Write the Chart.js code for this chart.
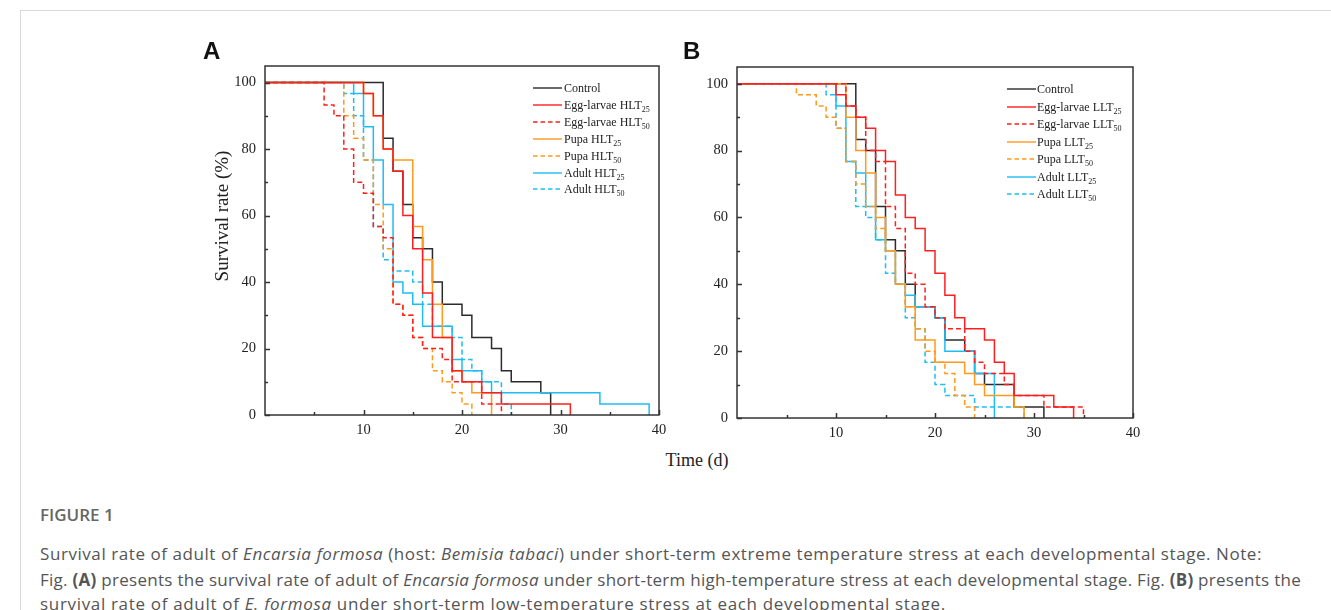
<!DOCTYPE html>
<html><head><meta charset="utf-8">
<script src="https://cdn.jsdelivr.net/npm/chart.js@4.4.1/dist/chart.umd.min.js"></script>
<style>
body{margin:0;width:1331px;height:610px;background:#fff;position:relative;overflow:hidden;font-family:'Open Sans',sans-serif;}
.ftop{position:absolute;left:20px;top:10px;width:1311px;height:0;border-top:1px solid #d9d9d9;}
.fleft{position:absolute;left:20px;top:10px;width:0;height:600px;border-left:1px solid #d9d9d9;}
canvas{position:absolute;}
.plab{position:absolute;font-family:'Liberation Sans',Arial,sans-serif;font-weight:bold;font-size:24px;color:#111;}
.atitle{position:absolute;font-family:'Liberation Serif','Times New Roman',serif;font-size:18px;color:#222;white-space:nowrap;}
.leg{position:absolute;font-family:'Liberation Serif','Times New Roman',serif;font-size:12px;color:#222;white-space:nowrap;height:16px;line-height:16px;}
.leg svg{position:absolute;left:0;top:0;}
.leg span{position:absolute;top:0;}
.leg sub{font-size:8px;vertical-align:-3px;line-height:0;}
.cap{position:absolute;left:40px;color:#555;white-space:nowrap;font-size:17px;line-height:23px;}
.cap span{display:inline-block;}
.fig{position:absolute;left:40px;top:503px;font-size:17px;font-weight:600;color:#666;}
</style></head>
<body>
<div class="ftop"></div><div class="fleft"></div>
<canvas id="cA" width="480" height="390" style="left:195px;top:56px;width:480px;height:390px"></canvas>
<canvas id="cB" width="480" height="390" style="left:667px;top:57px;width:480px;height:390px"></canvas>
<div class="plab" style="left:203px;top:37px">A</div>
<div class="plab" style="left:683px;top:37px">B</div>
<div class="atitle" style="left:222px;top:216px;font-size:19px;transform:translate(-50%,-50%) rotate(-90deg);">Survival rate (%)</div>
<div class="atitle" style="left:697px;top:460px;transform:translate(-50%,-50%);">Time (d)</div>
<div id="legA"></div><div id="legB"></div>
<div class="fig">FIGURE 1</div>
<div class="cap" data-w="1222" style="top:542px;"><span>Survival rate of adult of <i>Encarsia formosa</i> (host: <i>Bemisia tabaci</i>) under short-term extreme temperature stress at each developmental stage. Note:</span></div>
<div class="cap" data-w="1261" style="top:568px;"><span>Fig. <b>(A)</b> presents the survival rate of adult of <i>Encarsia formosa</i> under short-term high-temperature stress at each developmental stage. Fig. <b>(B)</b> presents the</span></div>
<div class="cap" data-w="906" style="top:592px;"><span>survival rate of adult of <i>E. formosa</i> under short-term low-temperature stress at each developmental stage.</span></div>
<script>
// ---- tick values ----
const xTickValues = [10, 20, 30, 40];
const xMinorTicks = [5, 15, 25, 35];
const yTickValues = [0, 20, 40, 60, 80, 100];
const yMinorTicks = [10, 30, 50, 70, 90];

// ---- Panel A (high temperature) : [day, survival %] ----
const controlA   = [[0,100],[12,83.3],[13,73.3],[14,63.3],[15,53.3],[16,50],[17,40],[18,33.3],[20,30],[21,23.3],[23,20],[24,13.3],[25,10],[28,6.7],[29,0]];
const eggHLT25   = [[0,100],[10,96.7],[11,90],[12,80],[13,73.3],[14,60],[15,50],[16,36.7],[17,23.3],[19,13.3],[20,10],[22,6.7],[24,3.3],[31,0]];
const eggHLT50   = [[0,100],[6,93.3],[7,90],[8,80],[9,70],[10,66.7],[11,56.7],[12,53.3],[13,33.3],[14,30],[15,23.3],[16,20],[18,16.7],[19,10],[22,3.3],[24,0]];
const pupaHLT25  = [[0,100],[10,96.7],[11,90],[12,80],[13,76.7],[15,56.7],[16,46.7],[17,33.3],[18,23.3],[19,13.3],[20,10],[21,6.7],[23,0]];
const pupaHLT50  = [[0,100],[8,90],[9,83.3],[10,76.7],[11,63.3],[12,50],[13,33.3],[14,30],[15,23.3],[16,20],[17,13.3],[18,10],[19,6.7],[20,3.3],[21,0]];
const adultHLT25 = [[0,100],[9,96.7],[10,86.7],[11,76.7],[12,63.3],[13,40],[14,36.7],[15,33.3],[16,26.7],[19,16.7],[20,13.3],[22,10],[23,6.7],[34,3.3],[39,0]];
const adultHLT50 = [[0,100],[8,96.7],[9,90],[10,76.7],[11,56.7],[12,46.7],[13,43.3],[15,40],[16,33.3],[17,26.7],[19,23.3],[20,16.7],[21,13.3],[22,10],[24,3.3],[25,0]];

// ---- Panel B (low temperature) ----
const controlB   = [[0,100],[12,83.3],[13,80],[14,63.3],[15,53.3],[16,50],[17,40],[18,33.3],[20,30],[21,23.3],[23,20],[24,13.3],[25,10],[28,3.3],[31,0]];
const eggLLT25   = [[0,100],[10,96.7],[11,93.3],[12,90],[13,86.7],[14,80],[15,76.7],[16,66.7],[17,60],[18,56.7],[19,50],[20,43.3],[21,36.7],[22,30],[23,26.7],[25,23.3],[26,16.7],[27,13.3],[28,6.7],[32,3.3],[34,0]];
const eggLLT50   = [[0,100],[11,93.3],[12,90],[13,80],[14,76.7],[15,63.3],[16,56.7],[17,43.3],[18,40],[19,33.3],[20,30],[21,26.7],[23,20],[24,16.7],[25,13.3],[27,10],[28,6.7],[31,3.3],[35,0]];
const pupaLLT25  = [[0,100],[11,90],[12,80],[13,73.3],[14,60],[15,50],[16,40],[17,33.3],[18,23.3],[20,16.7],[23,13.3],[24,10],[25,6.7],[28,3.3],[29,0]];
const pupaLLT50  = [[0,100],[6,96.7],[8,93.3],[9,90],[10,86.7],[11,76.7],[12,70],[13,63.3],[14,56.7],[15,50],[16,40],[17,33.3],[18,26.7],[19,20],[20,16.7],[21,13.3],[22,6.7],[23,3.3],[24,0]];
const adultLLT25 = [[0,100],[10,93.3],[11,76.7],[12,73.3],[13,63.3],[14,53.3],[15,50],[16,40],[17,36.7],[18,33.3],[20,30],[21,20],[24,13.3],[26,0]];
const adultLLT50 = [[0,100],[9,96.7],[10,86.7],[11,76.7],[12,63.3],[13,60],[14,53.3],[15,43.3],[16,40],[17,30],[18,26.7],[19,16.7],[20,10],[21,6.7],[24,3.3],[29,0]];

const legendA = ['Control','Egg-larvae HLT|25','Egg-larvae HLT|50','Pupa HLT|25','Pupa HLT|50','Adult HLT|25','Adult HLT|50'];
const legendB = ['Control','Egg-larvae LLT|25','Egg-larvae LLT|50','Pupa LLT|25','Pupa LLT|50','Adult LLT|25','Adult LLT|50'];

const colors = ['#2b2b2b','#ff1f1f','#ff1f1f','#ff9a1e','#ff9a1e','#1ebdf2','#1ebdf2'];
const dashed = [false,false,true,false,true,false,true];

function toXY(arr){return arr.map(p=>({x:p[0],y:p[1]}));}

const boxTicks = {
  id:'boxTicks',
  afterDraw(chart){
    const {ctx, chartArea:a, scales:{x,y}} = chart;
    ctx.save();
    ctx.strokeStyle='#333'; ctx.lineWidth=1.5;
    ctx.strokeRect(a.left, a.top, a.right-a.left, a.bottom-a.top);
    ctx.beginPath();
    xTickValues.forEach(v=>{const p=Math.round(x.getPixelForValue(v))+0.5; ctx.moveTo(p,a.bottom); ctx.lineTo(p,a.bottom-5);});
    xMinorTicks.forEach(v=>{const p=Math.round(x.getPixelForValue(v))+0.5; ctx.moveTo(p,a.bottom); ctx.lineTo(p,a.bottom-3);});
    yTickValues.forEach(v=>{const p=Math.round(y.getPixelForValue(v))+0.5; ctx.moveTo(a.left,p); ctx.lineTo(a.left+5,p);});
    yMinorTicks.forEach(v=>{const p=Math.round(y.getPixelForValue(v))+0.5; ctx.moveTo(a.left,p); ctx.lineTo(a.left+3,p);});
    ctx.stroke();
    ctx.restore();
  }
};

function makeChart(id, series, rightPad, xH){
  const datasets = series.map((s,i)=>({
    data: toXY(s), borderColor: colors[i], borderWidth: 1.5, borderDash: dashed[i]?[5,3]:[],
    stepped: true, pointRadius: 0, fill: false, tension: 0
  }));
  const order = [1,2,3,4,5,6,0];
  const ds = order.map(k=>datasets[k]);
  new Chart(document.getElementById(id), {
    type:'line',
    data:{datasets: ds},
    options:{
      responsive:false, animation:false, events:[],
      layout:{padding:{top:10,right:rightPad,left:0,bottom:0}},
      plugins:{legend:{display:false}, tooltip:{enabled:false}},
      scales:{
        x:{type:'linear', min:0, max:40,
           grid:{display:false, drawTicks:false}, border:{display:false},
           afterBuildTicks:s=>{s.ticks = xTickValues.map(v=>({value:v}));},
           afterFit:s=>{s.height = xH; s.paddingLeft = 0; s.paddingRight = 0;},
           ticks:{padding:6, color:'#222', font:{family:"'Liberation Serif'", size:14.5}, maxRotation:0, autoSkip:false}},
        y:{type:'linear', min:0, max:105,
           grid:{display:false, drawTicks:false}, border:{display:false},
           afterBuildTicks:s=>{s.ticks = yTickValues.map(v=>({value:v}));},
           afterFit:s=>{s.width = 70; s.paddingTop = 0; s.paddingBottom = 0;},
           ticks:{padding:9, color:'#222', font:{family:"'Liberation Serif'", size:14.5}, autoSkip:false}}
      }
    },
    plugins:[boxTicks]
  });
}

makeChart('cA', [controlA, eggHLT25, eggHLT50, pupaHLT25, pupaHLT50, adultHLT25, adultHLT50], 16, 31);
makeChart('cB', [controlB, eggLLT25, eggLLT50, pupaLLT25, pupaLLT50, adultLLT25, adultLLT50], 14, 29);

function buildLegend(elId, labels, lineLeft, textLeft, top0, step){
  const host = document.getElementById(elId);
  labels.forEach((lab,i)=>{
    const d = document.createElement('div');
    d.className='leg';
    d.style.left = lineLeft+'px';
    d.style.top = (top0 + step*i - 8)+'px';
    const parts = lab.split('|');
    const dash = dashed[i] ? 'stroke-dasharray="4.5 3"' : '';
    d.innerHTML = '<svg width="30" height="16"><line x1="0" y1="8" x2="29" y2="8" stroke="'+colors[i]+'" stroke-width="1.4" '+dash+'/></svg>'+
      '<span style="left:'+(textLeft-lineLeft)+'px">'+parts[0]+(parts[1]?'<sub>'+parts[1]+'</sub>':'')+'</span>';
    host.appendChild(d);
  });
}
buildLegend('legA', legendA, 533, 564, 88, 16.9);
buildLegend('legB', legendB, 1007, 1037, 89, 17.5);

function fitCaps(){
  document.querySelectorAll('.cap').forEach(el=>{
    const sp = el.querySelector('span');
    sp.style.letterSpacing = '0px';
    const w = sp.getBoundingClientRect().width;
    const n = sp.textContent.length;
    const target = +el.dataset.w;
    sp.style.letterSpacing = ((target - w)/n).toFixed(3)+'px';
  });
}
fitCaps();
if (document.fonts && document.fonts.ready) document.fonts.ready.then(fitCaps);
</script>
</body></html>
